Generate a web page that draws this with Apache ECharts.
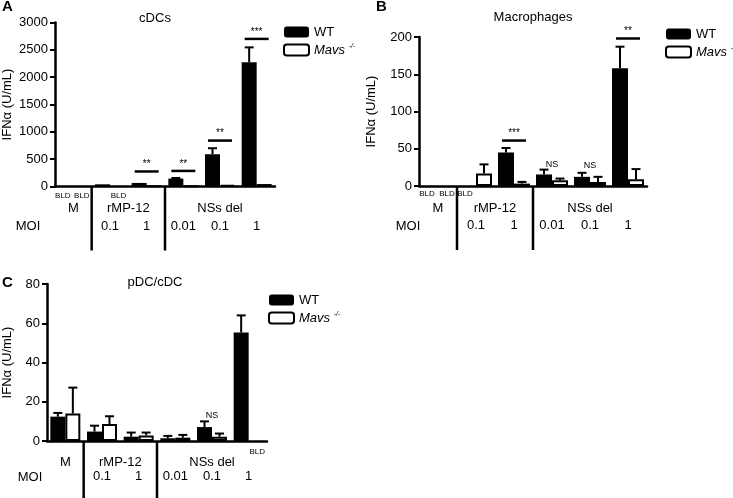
<!DOCTYPE html>
<html><head><meta charset="utf-8">
<script src="https://cdn.jsdelivr.net/npm/echarts@6/dist/echarts.min.js"></script>
<style>html,body{margin:0;padding:0;background:#fff}#c{width:733px;height:498px}</style>
</head><body><div id="c"></div>
<script>
// ---------- data ----------
const categories = ['M', 'rMP-12 0.1', 'rMP-12 1', 'NSs del 0.01', 'NSs del 0.1', 'NSs del 1'];
const moiLabels = ['', '0.1', '1', '0.01', '0.1', '1'];
const groupNames = ['M', 'rMP-12', 'NSs del'];
const groupFrom = [0, 1, 3];
const groupTo = [0, 2, 5];

// Panel A: cDCs
const aTicks = [0, 3000, 500];
const aWT = [null, 40, 65, 145, 590, 2275];
const aWTErr = [null, null, null, 155, 700, 2545];
const aMavs = [null, null, 5, 5, 30, 45];
const aMavsErr = [null, null, null, null, null, null];
const aBLD = [[0, 0], [0, 1], [1, 1]];            // [category, side]
const aSigCat = [2, 3, 4, 5];
const aSigVal = [275, 285, 840, 2700];
const aSigText = ['**', '**', '**', '***'];
const aSigLine = [1, 1, 1, 1];

// Panel B: Macrophages
const bTicks = [0, 200, 50];
const bWT = [null, null, 45, 15.5, 12.3, 158];
const bWTErr = [null, null, 51, 22, 17.7, 187];
const bMavs = [null, 16.8, 3.2, 7.7, 5.5, 9];
const bMavsErr = [null, 29, 5.5, 10, 12.3, 22.7];
const bBLD = [[0, 0], [0, 1], [1, 0]];
const bSigCat = [2, 3, 4, 5];
const bSigVal = [61, 29.5, 27.5, 198];
const bSigText = ['***', 'NS', 'NS', '**'];
const bSigLine = [1, 0, 0, 1];

// Panel C: pDC/cDC
const cTicks = [0, 80, 20];
const cWT = [12.4, 4.8, 2.2, 1.4, 7.1, 55.3];
const cWTErr = [14.3, 7.8, 4.3, 2.6, 10, 64];
const cMavs = [14, 8.6, 2.8, 1.7, 2.2, null];
const cMavsErr = [27.2, 12.6, 4.3, 3.1, 3.8, null];
const cBLD = [[5, 1]];
const cSigCat = [4];
const cSigVal = [13.2];
const cSigText = ['NS'];
const cSigLine = [0];

const FONT = '"Liberation Sans", Arial, Helvetica, sans-serif';

// ---------- panels layout ----------
const panels = [
  {grid: {left: 54, top: 22.5, width: 221, height: 164}, ticks: aTicks, wt: aWT, wtErr: aWTErr, mv: aMavs, mvErr: aMavsErr,
   bld: aBLD, sig: [aSigCat, aSigVal, aSigText, aSigLine], bw: 15, moiMargin: 33, grpOff: 21.5, bldOff: 9, sepLen: 64, nameGap: 41},
  {grid: {left: 419, top: 37, width: 228, height: 149}, ticks: bTicks, wt: bWT, wtErr: bWTErr, mv: bMavs, mvErr: bMavsErr,
   bld: bBLD, sig: [bSigCat, bSigVal, bSigText, bSigLine], bw: 16, moiMargin: 33, grpOff: 22, bldOff: 8, sepLen: 64, nameGap: 41},
  {grid: {left: 42, top: 284, width: 225, height: 157}, ticks: cTicks, wt: cWT, wtErr: cWTErr, mv: cMavs, mvErr: cMavsErr,
   bld: cBLD, sig: [cSigCat, cSigVal, cSigText, cSigLine], bw: 15, moiMargin: 29, grpOff: 21.7, bldOff: 10.5, sepLen: 60, nameGap: 33}
];

const grids = [], xAxes = [], yAxes = [], series = [];

panels.forEach((p, i) => {
  grids.push(Object.assign({containLabel: false}, p.grid));
  xAxes.push({
    type: 'category', gridIndex: i, data: moiLabels,
    axisLine: {lineStyle: {color: '#000', width: 2.5}},
    axisTick: {show: false},
    axisLabel: {color: '#000', fontSize: 13, fontFamily: FONT, margin: p.moiMargin, interval: 0},
    splitLine: {show: false}
  });
  yAxes.push({
    type: 'value', gridIndex: i, min: p.ticks[0], max: p.ticks[1], interval: p.ticks[2],
    name: 'IFNα (U/mL)', nameLocation: 'middle', nameGap: p.nameGap,
    nameTextStyle: {color: '#000', fontSize: 13, fontFamily: FONT},
    axisLine: {show: true, lineStyle: {color: '#000', width: 2.5}},
    axisTick: {show: true, length: 5, lineStyle: {color: '#000', width: 2}},
    axisLabel: {color: '#000', fontSize: 13, fontFamily: FONT, margin: 7, formatter: v => String(v)},
    splitLine: {show: false}
  });
  series.push({
    name: 'WT', type: 'bar', xAxisIndex: i, yAxisIndex: i, data: p.wt,
    barWidth: p.bw, barGap: '0%', itemStyle: {color: '#000'}, z: 2
  });
  series.push({
    name: 'Mavs', type: 'bar', xAxisIndex: i, yAxisIndex: i, data: p.mv,
    barWidth: p.bw, barGap: '0%', itemStyle: {color: '#fff', borderColor: '#000', borderWidth: 2}, z: 2
  });
  // error bars
  const errData = [];
  p.wt.forEach((v, k) => { if (v != null && p.wtErr[k] != null) errData.push([k, v, p.wtErr[k], 0]); });
  p.mv.forEach((v, k) => { if (v != null && p.mvErr[k] != null) errData.push([k, v, p.mvErr[k], 1]); });
  const bw = p.bw;
  series.push({
    type: 'custom', xAxisIndex: i, yAxisIndex: i, data: errData, z: 5, silent: true,
    encode: {x: 0, y: 1},
    renderItem: (params, api) => {
      const c = api.value(0), side = api.value(3);
      const base = api.coord([c, api.value(1)]);
      const top = api.coord([c, api.value(2)]);
      const x = base[0] + (side === 0 ? -bw / 2 : bw / 2);
      return {type: 'group', children: [
        {type: 'line', shape: {x1: x, y1: base[1], x2: x, y2: top[1]}, style: {stroke: '#000', lineWidth: 2}},
        {type: 'line', shape: {x1: x - 4.5, y1: top[1], x2: x + 4.5, y2: top[1]}, style: {stroke: '#000', lineWidth: 2}}
      ]};
    }
  });
  // significance marks
  const sigData = p.sig[0].map((c, k) => [c, p.sig[1][k], k]);
  const sig = p.sig;
  series.push({
    type: 'custom', xAxisIndex: i, yAxisIndex: i, data: sigData, z: 5, silent: true,
    encode: {x: 0, y: 1},
    renderItem: (params, api) => {
      const k = api.value(2);
      const pt = api.coord([api.value(0), api.value(1)]);
      const txt = sig[2][k], hasLine = sig[3][k];
      const children = [];
      if (hasLine) {
        children.push({type: 'line', shape: {x1: pt[0] - 12, y1: pt[1], x2: pt[0] + 12, y2: pt[1]}, style: {stroke: '#000', lineWidth: 2.5}});
        children.push({type: 'text', style: {text: txt, x: pt[0], y: pt[1] - 2, align: 'center', verticalAlign: 'bottom', font: '10px ' + FONT, fill: '#000'}});
      } else {
        children.push({type: 'text', style: {text: txt, x: pt[0], y: pt[1], align: 'center', verticalAlign: 'middle', font: '9px ' + FONT, fill: '#000'}});
      }
      return {type: 'group', children};
    }
  });
  // BLD labels
  const bldOff = p.bldOff;
  series.push({
    type: 'custom', xAxisIndex: i, yAxisIndex: i, data: p.bld.map(b => [b[0], 0, b[1]]), z: 5, silent: true,
    encode: {x: 0, y: 1},
    renderItem: (params, api) => {
      const pt = api.coord([api.value(0), 0]);
      const x = pt[0] + (api.value(2) === 0 ? -bw / 2 - 3 : bw / 2 + 1);
      return {type: 'text', style: {text: 'BLD', x: x, y: pt[1] + bldOff, align: 'center', verticalAlign: 'middle', font: '8px ' + FONT, fill: '#000'}};
    }
  });
  // group labels and separators
  const grpOff = p.grpOff, sepLen = p.sepLen;
  series.push({
    type: 'custom', xAxisIndex: i, yAxisIndex: i, data: groupNames.map((g, k) => [groupFrom[k], 0, groupTo[k], k]), z: 5, silent: true,
    encode: {x: 0, y: 1},
    renderItem: (params, api) => {
      const band = api.size([1, 0])[0];
      const a = api.coord([api.value(0), 0]);
      const b = api.coord([api.value(2), 0]);
      const left = a[0] - band / 2, right = b[0] + band / 2;
      const k = api.value(3);
      const children = [{type: 'text', style: {text: groupNames[k], x: (left + right) / 2, y: a[1] + grpOff, align: 'center', verticalAlign: 'middle', font: '13px ' + FONT, fill: '#000'}}];
      if (k > 0) children.push({type: 'line', shape: {x1: left, y1: a[1], x2: left, y2: a[1] + sepLen}, style: {stroke: '#000', lineWidth: 2.5}});
      return {type: 'group', children};
    }
  });
});

const legendBase = {
  orient: 'vertical', itemWidth: 25, itemHeight: 11, itemGap: 4, selectedMode: false,
  data: [
    {name: 'WT', itemStyle: {color: '#000', borderWidth: 0}},
    {name: 'Mavs', itemStyle: {color: '#fff', borderColor: '#000', borderWidth: 2}}
  ],
  formatter: n => n === 'Mavs' ? '{i|Mavs} {s|-/-}' : n,
  textStyle: {color: '#000', fontSize: 13, fontFamily: FONT, lineHeight: 14,
    rich: {i: {fontStyle: 'italic', fontSize: 13, fontFamily: FONT, lineHeight: 14},
           s: {fontStyle: 'italic', fontSize: 7, fontFamily: FONT, verticalAlign: 'top', lineHeight: 14}}}
};
const legends = [
  Object.assign({left: 278, top: 20}, legendBase),
  Object.assign({left: 660, top: 22}, legendBase),
  Object.assign({left: 263, top: 288}, legendBase)
];

const titleTexts = ['cDCs', 'Macrophages', 'pDC/cDC'];
const titleX = [155, 533, 155];
const titleY = [18, 17, 282];
const letters = ['A', 'B', 'C'];
const letterX = [2, 376, 2];
const letterY = [7, 7, 283];
const moiX = [28, 408, 30];
const moiY = [226, 226, 477];

const graphic = titleTexts.map((t, k) => ({type: 'text', x: titleX[k], y: titleY[k], style: {text: t, align: 'center', verticalAlign: 'middle', font: '13px ' + FONT, fill: '#000'}, silent: true}))
  .concat(letters.map((t, k) => ({type: 'text', x: letterX[k], y: letterY[k], style: {text: t, verticalAlign: 'middle', font: 'bold 15px ' + FONT, fill: '#000'}, silent: true})))
  .concat(moiX.map((x, k) => ({type: 'text', x: x, y: moiY[k], style: {text: 'MOI', align: 'center', verticalAlign: 'middle', font: '13px ' + FONT, fill: '#000'}, silent: true})));

const chart = echarts.init(document.getElementById('c'), null, {renderer: 'canvas'});
chart.setOption({
  animation: false,
  backgroundColor: '#fff',
  grid: grids, xAxis: xAxes, yAxis: yAxes, series: series, legend: legends, graphic: graphic
});
</script></body></html>
